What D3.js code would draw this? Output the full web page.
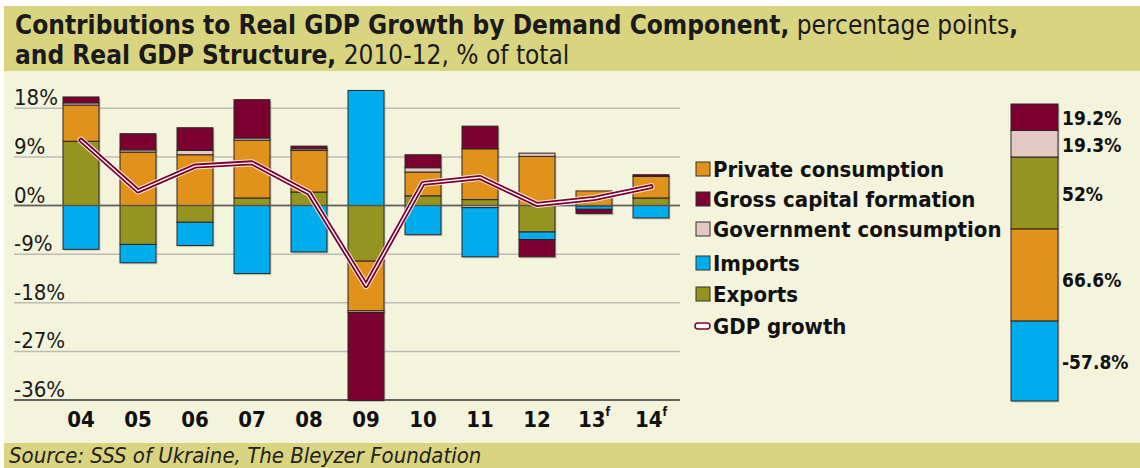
<!DOCTYPE html>
<html>
<head>
<meta charset="utf-8">
<script src="https://cdn.jsdelivr.net/npm/d3@7"></script>
<style>
  body { margin: 0; background: #fff; }
  svg { display: block; font-family: "DejaVu Sans Condensed", "DejaVu Sans", sans-serif; }
</style>
</head>
<body>
<svg id="chart" width="1140" height="468"></svg>
<script>
// chart data
const years = ["04", "05", "06", "07", "08", "09", "10", "11", "12", "13", "14"];
const forecast = ["13", "14"];
const exportsV = [11.9, -7.2, -3.1, 1.4, 2.5, -10.3, 1.8, 1.1, -4.9, -0.1, 1.4];
const privateV = [6.7, 9.9, 9.4, 10.7, 7.7, -9.2, 4.4, 9.4, 9.1, 2.7, 4.0];
const govtV = [0.4, 0.4, 0.8, 0.4, 0.3, -0.3, 0.8, -0.4, 0.6, 0, 0];
const importsV = [-8.1, -3.4, -4.3, -12.6, -8.6, 21.3, -5.4, -9.1, -1.4, -0.6, -2.3];
const gcfV = [1.1, 3.0, 4.2, 7.1, 0.5, -16.3, 2.4, 4.2, -3.2, -0.8, 0.3];
const gdpGrowth = [12.1, 2.7, 7.3, 7.9, 2.3, -14.8, 4.1, 5.2, 0.2, 1.3, 3.5];
const yTicks = [18, 9, 0, -9, -18, -27, -36];

// structure 2010-12, top to bottom
const structKeys = ["gcf", "govt", "exports", "private", "imports"];
const structValues = [19.2, 19.3, 52, 66.6, -57.8];

const colors = {
  private: "#e0921a",
  gcf: "#7c0030",
  govt: "#e4c8c4",
  imports: "#00adec",
  exports: "#959421"
};
const legendItems = [
  { key: "private", label: "Private consumption" },
  { key: "gcf", label: "Gross capital formation" },
  { key: "govt", label: "Government consumption" },
  { key: "imports", label: "Imports" },
  { key: "exports", label: "Exports" }
];

const svg = d3.select("#chart");

// backgrounds
svg.append("rect").attr("x", 4).attr("y", 6).attr("width", 1136).attr("height", 462).attr("fill", "#f4f3dc");
svg.append("rect").attr("x", 4).attr("y", 6).attr("width", 1136).attr("height", 65).attr("fill", "#d9d47f");
svg.append("rect").attr("x", 4).attr("y", 443).attr("width", 1136).attr("height", 25).attr("fill", "#d9d47f");

// title
const t1 = svg.append("text").attr("x", 15).attr("y", 34).attr("font-size", 26).attr("fill", "#1a1a1a");
t1.append("tspan").attr("font-weight", "bold").text("Contributions to Real GDP Growth by Demand Component,");
t1.append("tspan").text(" percentage points");
t1.append("tspan").attr("font-weight", "bold").text(",");
const t2 = svg.append("text").attr("x", 15).attr("y", 64).attr("font-size", 26).attr("fill", "#1a1a1a");
t2.append("tspan").attr("font-weight", "bold").text("and Real GDP Structure,");
t2.append("tspan").text(" 2010-12, % of total");

svg.append("text").attr("x", 9).attr("y", 463).attr("font-size", 22).attr("font-style", "italic")
  .attr("fill", "#222").text("Source: SSS of Ukraine, The Bleyzer Foundation");

// scales
const x = d3.scalePoint().domain(years).range([81, 651]);
const y = d3.scaleLinear().domain([-36, 18]).range([400, 108.3]);
const barW = 36;

// grid
const grid = svg.append("g");
grid.selectAll("line").data(yTicks).join("line")
  .attr("x1", 14).attr("x2", 680)
  .attr("y1", d => y(d)).attr("y2", d => y(d))
  .attr("stroke", d => d === 0 ? "#6d6d66" : d === -36 ? "#333" : "#bcbcb4")
  .attr("stroke-width", 1.5);
grid.selectAll("text").data(yTicks).join("text")
  .attr("x", 14).attr("y", d => y(d) - 3)
  .attr("font-size", 22).attr("fill", "#1a1a1a")
  .text(d => d + "%");

// stacked bars
const table = years.map((yr, i) => ({
  year: yr, exports: exportsV[i], private: privateV[i], govt: govtV[i], imports: importsV[i], gcf: gcfV[i]
}));
const stack = d3.stack()
  .keys(["exports", "private", "govt", "imports", "gcf"])
  .offset(d3.stackOffsetDiverging);
const series = stack(table);

// soft shadow behind each column
const ext = table.map((d, i) => {
  const vals = series.map(s => s[i]).flat();
  return { year: d.year, lo: d3.min(vals), hi: d3.max(vals) };
});
svg.append("g").selectAll("rect").data(ext).join("rect")
  .attr("x", d => x(d.year) - barW / 2 + 1.5)
  .attr("y", d => y(d.hi) + 1.5)
  .attr("width", barW).attr("height", d => y(d.lo) - y(d.hi))
  .attr("fill", "#9a9a90").attr("opacity", 0.45);

svg.append("g").selectAll("g").data(series).join("g")
  .attr("fill", s => colors[s.key])
  .selectAll("rect").data(s => s.filter(d => d[1] !== d[0])).join("rect")
  .attr("x", d => x(d.data.year) - barW / 2)
  .attr("y", d => y(Math.max(d[0], d[1])))
  .attr("width", barW)
  .attr("height", d => Math.abs(y(d[0]) - y(d[1])))
  .attr("stroke", "#2b2424").attr("stroke-width", 1);

// zero line over the bars
svg.append("line").attr("x1", 14).attr("x2", 680).attr("y1", y(0)).attr("y2", y(0))
  .attr("stroke", "#5f5f58").attr("stroke-width", 1.5).attr("opacity", 0.8);

// GDP growth line: white halo, maroon body, white core
const line = d3.line().x((d, i) => x(years[i])).y(d => y(d));
[["#ffffff", 7, 0.8], ["#7c0030", 5, 1], ["#ffffff", 1.4, 1]].forEach(([c, w, o]) => {
  svg.append("path").datum(gdpGrowth).attr("d", line)
    .attr("fill", "none").attr("stroke", c).attr("stroke-width", w).attr("opacity", o)
    .attr("stroke-linejoin", "round").attr("stroke-linecap", "round");
});

// x labels
const xl = svg.append("g").selectAll("text").data(years).join("text")
  .attr("x", d => x(d)).attr("y", 427)
  .attr("text-anchor", "middle").attr("font-size", 22).attr("font-weight", "bold").attr("fill", "#111");
xl.append("tspan").text(d => d);
xl.filter(d => forecast.includes(d)).append("tspan")
  .attr("font-size", 12).attr("dy", -11).text("f");

// legend
const leg = svg.append("g");
const rowY = [169, 199, 229, 263, 294];
legendItems.forEach((it, i) => {
  leg.append("rect").attr("x", 696).attr("y", rowY[i] - 7).attr("width", 14).attr("height", 14)
    .attr("fill", colors[it.key]).attr("stroke", "#333").attr("stroke-width", 1);
  leg.append("text").attr("x", 713).attr("y", rowY[i] + 8).attr("font-size", 22).attr("font-weight", "bold")
    .attr("fill", "#111").text(it.label);
});
leg.append("rect").attr("x", 695).attr("y", 323).attr("width", 15).attr("height", 6).attr("rx", 3)
  .attr("fill", "#fff").attr("stroke", "#7c0030").attr("stroke-width", 1.5);
leg.append("text").attr("x", 713).attr("y", 334).attr("font-size", 22).attr("font-weight", "bold")
  .attr("fill", "#111").text("GDP growth");

// structure bar
const total = d3.sum(structValues, v => Math.abs(v));
const ys = d3.scaleLinear().domain([0, total]).range([104, 401]);
let acc = 0;
const segs = structKeys.map((k, i) => {
  const s = { key: k, v: structValues[i], y0: acc, y1: acc + Math.abs(structValues[i]) };
  acc = s.y1;
  return s;
});
const sb = svg.append("g");
sb.append("rect").attr("x", 1012.5).attr("y", ys(0) + 1.5).attr("width", 47).attr("height", ys(total) - ys(0))
  .attr("fill", "#9a9a90").attr("opacity", 0.45);
sb.selectAll("rect.seg").data(segs).join("rect").attr("class", "seg")
  .attr("x", 1011).attr("y", d => ys(d.y0)).attr("width", 47).attr("height", d => ys(d.y1) - ys(d.y0))
  .attr("fill", d => colors[d.key]).attr("stroke", "#2b2424").attr("stroke-width", 1);
sb.selectAll("text").data(segs).join("text")
  .attr("x", 1062).attr("y", (d, i) => (ys(d.y0) + ys(d.y1)) / 2 + 8 + (d.key === "private" ? 4 : 0))
  .attr("font-size", 19).attr("font-weight", "bold").attr("fill", "#111")
  .text(d => d.v + "%");
</script>
</body>
</html>
